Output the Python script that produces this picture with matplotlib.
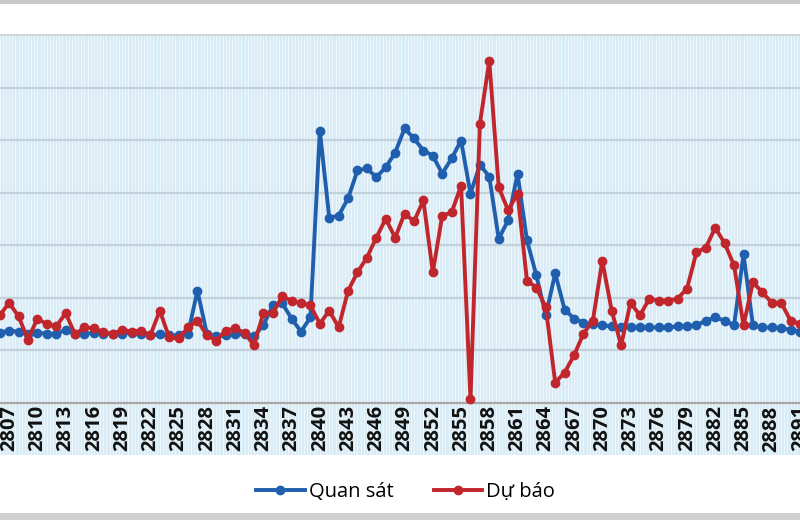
import numpy as np
import matplotlib
matplotlib.use("Agg")
import matplotlib.pyplot as plt
from matplotlib.patches import Rectangle

plt.rcParams['font.family'] = ['Open Sans', 'DejaVu Sans']

# ---- data ----
x_start = 2806
x_end = 2891
tick_labels = [str(v) for v in range(2807, 2892, 3)]

quan_sat = [1.33, 1.37, 1.35, 1.31, 1.33, 1.31, 1.30, 1.39, 1.31, 1.31,
            1.33, 1.31, 1.30, 1.31, 1.33, 1.31, 1.28, 1.30, 1.28, 1.28,
            1.31, 2.13, 1.31, 1.26, 1.28, 1.30, 1.30, 1.26, 1.47, 1.85,
            1.89, 1.60, 1.35, 1.62, 5.18, 3.52, 3.56, 3.89, 4.42, 4.46,
            4.29, 4.48, 4.76, 5.22, 5.03, 4.80, 4.70, 4.36, 4.65, 4.99,
            3.98, 4.53, 4.30, 3.12, 3.47, 4.36, 3.09, 2.42, 1.66, 2.46,
            1.77, 1.60, 1.52, 1.49, 1.47, 1.45, 1.43, 1.43, 1.43, 1.43,
            1.43, 1.43, 1.45, 1.45, 1.47, 1.56, 1.62, 1.56, 1.47, 2.82,
            1.47, 1.43, 1.43, 1.41, 1.39, 1.35]

du_bao = [1.66, 1.90, 1.64, 1.20, 1.60, 1.49, 1.45, 1.70, 1.30, 1.43,
          1.41, 1.35, 1.30, 1.39, 1.35, 1.37, 1.28, 1.75, 1.24, 1.22,
          1.43, 1.56, 1.28, 1.18, 1.37, 1.41, 1.33, 1.09, 1.70, 1.70,
          2.02, 1.94, 1.89, 1.85, 1.50, 1.75, 1.43, 2.13, 2.48, 2.76,
          3.14, 3.50, 3.14, 3.60, 3.45, 3.85, 2.48, 3.56, 3.62, 4.13,
          0.06, 5.31, 6.51, 4.10, 3.66, 3.98, 2.32, 2.19, 1.81, 0.38,
          0.57, 0.90, 1.31, 1.56, 2.70, 1.75, 1.09, 1.90, 1.66, 1.98,
          1.94, 1.94, 1.98, 2.17, 2.86, 2.95, 3.33, 3.03, 2.61, 1.47,
          2.29, 2.10, 1.90, 1.90, 1.56, 1.50]

x = np.arange(x_start, x_end + 1)

# ---- figure ----
fig = plt.figure(figsize=(8, 5.2), dpi=100)
fig.patch.set_facecolor('white')
fig.patches.append(Rectangle((0, 1 - 4 / 520), 1, 4 / 520, transform=fig.transFigure,
                             facecolor='#c8c8c8', edgecolor='none', zorder=0))
fig.patches.append(Rectangle((0, 0), 1, 7 / 520, transform=fig.transFigure,
                             facecolor='#cfcfcf', edgecolor='none', zorder=0))

ax = fig.add_axes([0, 65 / 520, 1, 420 / 520])
ax.set_facecolor('#d9ecf5')
ax.set_xlim(2806.03, 2891.0)
ax.set_ylim(-1, 7)

for s in ['left', 'right']:
    ax.spines[s].set_visible(False)
ax.spines['top'].set_color('#cfd6da')
ax.spines['top'].set_linewidth(1.5)
ax.spines['bottom'].set_position(('data', 0))
ax.spines['bottom'].set_color('#a8a8a8')
ax.spines['bottom'].set_linewidth(1.6)

# background stripes and grid
for xv in np.arange(2806.0, 2892.0, 1 / 3):
    ax.axvline(xv, color='white', lw=0.7, alpha=0.55, zorder=0.5)
for yv in range(1, 7):
    ax.axhline(yv, color='#c3d2da', lw=1.6, zorder=0.6)

ax.plot(x, quan_sat, color='#1f5fae', lw=2.8, marker='o', markersize=6,
        label='Quan sát', zorder=3, solid_joinstyle='round')
ax.plot(x, du_bao, color='#c0262c', lw=2.8, marker='o', markersize=6,
        label='Dự báo', zorder=4, solid_joinstyle='round')

ax.set_xticks(range(2807, 2892, 3))
ax.set_xticklabels(tick_labels, rotation=90, fontsize=14.5, color='#111111',
                   va='top', ha='center', fontweight='bold')
ax.tick_params(axis='x', length=0, pad=2)
ax.tick_params(axis='y', left=False, labelleft=False)

fig.legend(loc='center', bbox_to_anchor=(0.507, 1 - 492 / 520), ncol=2,
           frameon=False, fontsize=14.5, handlelength=2.4, handletextpad=0.2,
           columnspacing=2.0, markerscale=1.0)

fig.savefig('out.png', dpi=100)
